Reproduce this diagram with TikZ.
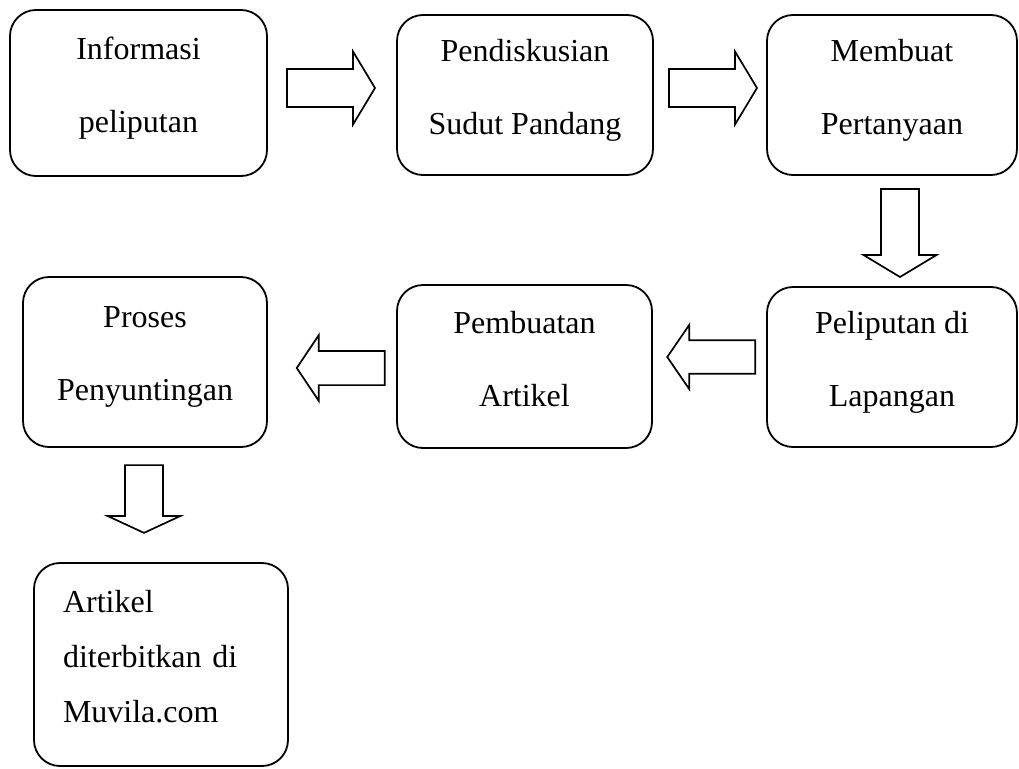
\documentclass[tikz,border=0pt]{standalone}
\usepackage{fontspec}
\setmainfont{Liberation Serif}
\usetikzlibrary{calc}

\begin{document}
\begin{tikzpicture}[x=1pt, y=-1pt,
        % Reusable styles for the process boxes and the block arrows
        procbox/.style={draw, line width=1.8pt, rounded corners=26pt, inner sep=0pt,
            align=center, font=\fontsize{32}{73}\selectfont,
            execute at end node={\rule[-16pt]{0pt}{0pt}}},
        blockarrow/.pic={
            \draw[line width=1.7pt] (-44,-19) -- (22,-19) -- (22,-36.5) -- (44,0)
                -- (22,36.5) -- (22,19) -- (-44,19) -- cycle;
        }
    ]

    \useasboundingbox (0,0) rectangle (1019,768);

    % Top row
    \node[procbox, minimum width=257pt, minimum height=166pt] (info) at (138.5,93) {Informasi\\peliputan};
    \node[procbox, minimum width=256pt, minimum height=160pt] (diskusi) at (525,95) {Pendiskusian\\Sudut Pandang};
    \node[procbox, minimum width=250pt, minimum height=160pt] (tanya) at (892,95) {Membuat\\Pertanyaan};

    % Middle row
    \node[procbox, minimum width=250pt, minimum height=160pt] (liput) at (892,367) {Peliputan di\\Lapangan};
    \node[procbox, minimum width=255pt, minimum height=163pt] (buat) at (524.5,366.5) {Pembuatan\\Artikel};
    \node[procbox, minimum width=244pt, minimum height=170pt] (sunting) at (145,362) {Proses\\Penyuntingan};

    % Last step
    \node[procbox, align=left, text width=196pt, inner xsep=29pt, minimum height=203pt,
        font=\fontsize{32}{55}\selectfont] (terbit) at (161,664.5) {Artikel\\diterbitkan di\\Muvila.com};

    % Block arrows between the steps
    \pic at ($(info.east)!0.5!(diskusi.west)+(-1,-6)$) {blockarrow};
    \pic at ($(diskusi.east)!0.5!(tanya.west)+(3,-7)$) {blockarrow};
    \pic[rotate=-90] at ($(tanya.south)!0.5!(liput.north)+(8,2)$) {blockarrow};
    \pic[rotate=180, yscale=0.88] at ($(liput.west)!0.5!(buat.east)+(1.75,-9.75)$) {blockarrow};
    \pic[rotate=180, yscale=0.9] at ($(buat.west)!0.5!(sunting.east)+(8.75,3.75)$) {blockarrow};
    \pic[rotate=-90, xscale=0.77] at ($(sunting.south)!0.5!(terbit.north)+(-9,-6)$) {blockarrow};

\end{tikzpicture}
\end{document}
